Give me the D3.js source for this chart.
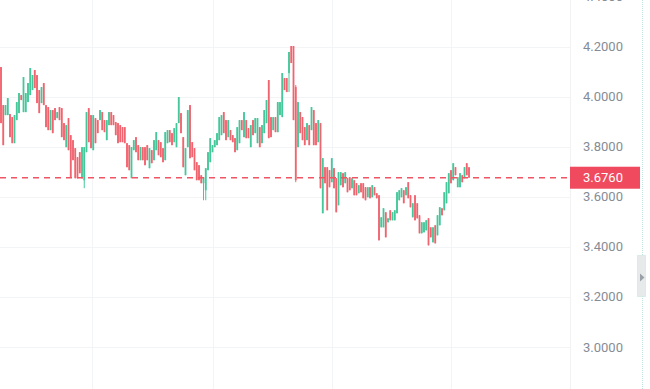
<!DOCTYPE html>
<html>
<head>
<meta charset="utf-8">
<script src="https://cdn.jsdelivr.net/npm/d3@7"></script>
<style>
  html, body { margin: 0; padding: 0; background: #fff; }
  svg { display: block; }
</style>
</head>
<body>
<svg id="chart" width="650" height="389"></svg>
<script>
// candle values (price units)
var opens = [
  4.118,3.966,3.926,3.926,3.930,3.918,3.814,3.906,3.934,4.006,
  3.938,3.938,3.978,4.006,4.026,4.106,4.086,4.026,3.974,4.054,
  3.966,3.958,3.866,3.946,3.954,3.914,3.958,3.954,3.894,3.798,
  3.914,3.846,3.826,3.794,3.758,3.778,3.674,3.666,3.778,3.954,
  3.926,3.786,3.914,3.906,3.906,3.938,3.906,3.826,3.886,3.938,
  3.926,3.898,3.894,3.886,3.878,3.878,3.814,3.806,3.674,3.786,
  3.838,3.806,3.746,3.798,3.798,3.806,3.714,3.786,3.746,3.786,
  3.826,3.818,3.794,3.746,3.814,3.866,3.854,3.818,3.798,3.894,
  3.934,3.838,3.686,3.798,3.966,3.818,3.794,3.738,3.726,3.686,
  3.654,3.626,3.706,3.738,3.778,3.798,3.806,3.826,3.846,3.938,
  3.906,3.838,3.866,3.846,3.834,3.786,3.814,3.906,3.838,3.906,
  3.874,3.798,3.906,3.854,3.814,3.878,3.814,3.854,3.894,4.066,
  3.918,3.866,3.918,3.858,3.926,3.918,4.074,4.074,4.094,4.202,
  4.202,4.038,3.798,3.938,3.918,3.878,3.826,3.886,3.866,3.946,
  3.894,3.818,3.894,3.534,3.718,3.718,3.706,3.658,3.714,3.674,
  3.566,3.646,3.694,3.654,3.674,3.678,3.634,3.666,3.654,3.614,
  3.654,3.654,3.638,3.598,3.638,3.598,3.638,3.614,3.606,3.478,
  3.478,3.538,3.498,3.546,3.506,3.506,3.534,3.586,3.598,3.626,
  3.606,3.658,3.606,3.518,3.606,3.574,3.526,3.454,3.458,3.466,
  3.514,3.478,3.418,3.486,3.446,3.486,3.554,3.546,3.574,3.614,
  3.706,3.666,3.718,3.638,3.638,3.686,3.674,3.734,3.718
];
var closes = [
  3.894,3.806,3.966,3.994,3.838,3.814,3.926,3.978,4.014,3.986,
  4.078,4.014,4.054,4.114,4.086,4.034,3.974,3.934,4.038,3.966,
  3.878,3.866,3.946,3.854,3.906,3.938,3.906,3.838,3.826,3.886,
  3.786,3.678,3.746,3.674,3.674,3.694,3.798,3.798,3.938,3.818,
  3.794,3.926,3.814,3.854,3.946,3.866,3.858,3.906,3.938,3.886,
  3.886,3.846,3.814,3.818,3.818,3.814,3.718,3.706,3.798,3.826,
  3.778,3.746,3.798,3.746,3.726,3.746,3.794,3.734,3.826,3.858,
  3.766,3.758,3.738,3.858,3.866,3.818,3.806,3.874,3.894,3.998,
  3.854,3.718,3.794,3.946,3.754,3.758,3.706,3.666,3.666,3.654,
  3.678,3.714,3.778,3.834,3.806,3.826,3.854,3.918,3.926,3.854,
  3.826,3.906,3.826,3.818,3.778,3.878,3.906,3.866,3.938,3.834,
  3.834,3.886,3.846,3.914,3.914,3.798,3.886,3.946,3.986,3.834,
  3.838,3.918,3.858,3.978,3.978,4.094,4.026,4.018,4.178,4.134,
  3.906,3.666,3.978,3.854,3.826,3.806,3.894,3.806,3.958,3.806,
  3.806,3.906,3.634,3.754,3.654,3.546,3.638,3.754,3.634,3.538,
  3.698,3.698,3.638,3.698,3.618,3.626,3.674,3.606,3.606,3.646,
  3.618,3.594,3.586,3.638,3.594,3.646,3.606,3.594,3.426,3.518,
  3.554,3.438,3.514,3.506,3.538,3.546,3.618,3.626,3.634,3.574,
  3.638,3.594,3.558,3.574,3.506,3.514,3.454,3.498,3.498,3.506,
  3.406,3.438,3.478,3.414,3.526,3.558,3.526,3.618,3.658,3.694,
  3.654,3.734,3.686,3.678,3.694,3.658,3.718,3.686,3.676
];
var highs = [
  4.118,3.966,3.966,3.994,3.930,3.918,3.926,3.978,4.014,4.006,
  4.078,4.014,4.054,4.114,4.086,4.106,4.086,4.026,4.038,4.054,
  3.966,3.958,3.946,3.946,3.954,3.938,3.958,3.954,3.894,3.886,
  3.914,3.846,3.826,3.794,3.758,3.778,3.798,3.798,3.938,3.954,
  3.926,3.926,3.914,3.906,3.946,3.938,3.906,3.906,3.938,3.938,
  3.926,3.898,3.894,3.886,3.878,3.878,3.814,3.806,3.798,3.826,
  3.838,3.806,3.798,3.798,3.798,3.806,3.794,3.786,3.826,3.858,
  3.826,3.818,3.794,3.858,3.866,3.866,3.854,3.874,3.894,3.998,
  3.934,3.838,3.794,3.946,3.966,3.818,3.794,3.738,3.726,3.686,
  3.678,3.714,3.778,3.834,3.806,3.826,3.854,3.918,3.926,3.938,
  3.906,3.906,3.866,3.846,3.834,3.878,3.906,3.906,3.938,3.906,
  3.874,3.886,3.906,3.914,3.914,3.878,3.886,3.946,3.986,4.066,
  3.918,3.918,3.918,3.978,3.978,4.094,4.074,4.074,4.178,4.202,
  4.202,4.046,3.978,3.938,3.918,3.878,3.894,3.886,3.958,3.946,
  3.894,3.906,3.894,3.754,3.718,3.718,3.706,3.754,3.714,3.674,
  3.698,3.698,3.694,3.698,3.674,3.678,3.674,3.666,3.654,3.646,
  3.654,3.654,3.638,3.638,3.638,3.646,3.638,3.614,3.606,3.518,
  3.554,3.538,3.514,3.546,3.538,3.546,3.618,3.626,3.634,3.626,
  3.638,3.658,3.606,3.574,3.606,3.574,3.526,3.498,3.498,3.506,
  3.514,3.478,3.478,3.486,3.526,3.558,3.554,3.618,3.658,3.694,
  3.706,3.734,3.718,3.678,3.694,3.686,3.718,3.734,3.718
];
var lows = [
  3.894,3.806,3.926,3.926,3.838,3.814,3.814,3.906,3.934,3.986,
  3.938,3.938,3.978,4.006,4.026,4.034,3.974,3.934,3.974,3.966,
  3.878,3.866,3.866,3.854,3.906,3.914,3.906,3.838,3.826,3.798,
  3.786,3.678,3.746,3.674,3.674,3.694,3.674,3.634,3.778,3.818,
  3.794,3.786,3.814,3.854,3.906,3.866,3.858,3.826,3.886,3.886,
  3.886,3.846,3.814,3.818,3.818,3.814,3.718,3.706,3.674,3.786,
  3.778,3.746,3.746,3.746,3.726,3.746,3.714,3.734,3.746,3.786,
  3.766,3.758,3.738,3.746,3.814,3.818,3.806,3.818,3.798,3.894,
  3.854,3.718,3.686,3.798,3.754,3.758,3.706,3.666,3.666,3.654,
  3.586,3.586,3.706,3.738,3.778,3.798,3.806,3.826,3.846,3.854,
  3.826,3.838,3.826,3.818,3.778,3.786,3.814,3.866,3.838,3.834,
  3.834,3.798,3.846,3.854,3.814,3.798,3.814,3.854,3.894,3.834,
  3.838,3.866,3.858,3.858,3.926,3.918,4.026,4.018,4.018,4.134,
  3.906,3.658,3.798,3.854,3.826,3.806,3.826,3.806,3.866,3.806,
  3.806,3.818,3.634,3.534,3.654,3.546,3.638,3.658,3.634,3.538,
  3.566,3.646,3.638,3.654,3.618,3.626,3.634,3.606,3.606,3.614,
  3.618,3.594,3.586,3.598,3.594,3.598,3.606,3.594,3.426,3.478,
  3.478,3.438,3.498,3.506,3.506,3.506,3.534,3.586,3.598,3.574,
  3.606,3.594,3.558,3.518,3.506,3.514,3.454,3.454,3.458,3.466,
  3.406,3.438,3.418,3.414,3.446,3.486,3.526,3.546,3.574,3.614,
  3.654,3.666,3.686,3.638,3.638,3.658,3.674,3.686,3.676
];
var lastPrice = 3.676;
var priceTicks = [3.0, 3.2, 3.4, 3.6, 3.8, 4.0, 4.2, 4.4];
var timeGridIdx = [40.5, 94, 147.2, 200.2];

var upColor = "#45c79b", downColor = "#f0646f";

var svg = d3.select("#chart"),
  width = +svg.attr("width"),
  height = +svg.attr("height"),
  plotRight = 570;

var x = d3.scaleLinear().domain([0, opens.length - 1]).range([1, 469]);
var y = d3.scaleLinear().domain([3.0, 4.2]).range([347, 46.5]);

// grid
var grid = svg.append("g");
grid.selectAll(".hg")
  .data(priceTicks)
  .enter().append("line")
  .attr("x1", 0).attr("x2", plotRight)
  .attr("y1", function(d) { return Math.round(y(d)) + 0.5; })
  .attr("y2", function(d) { return Math.round(y(d)) + 0.5; })
  .attr("stroke", "#f3f4f5");
grid.selectAll(".vg")
  .data(timeGridIdx)
  .enter().append("line")
  .attr("x1", function(d) { return Math.round(x(d)) + 0.5; })
  .attr("x2", function(d) { return Math.round(x(d)) + 0.5; })
  .attr("y1", 0).attr("y2", height)
  .attr("stroke", "#f3f4f5");
grid.append("line")
  .attr("x1", plotRight + 0.5).attr("x2", plotRight + 0.5)
  .attr("y1", 0).attr("y2", height)
  .attr("stroke", "#f1f2f3");

// candles
var candles = svg.append("g").selectAll("g")
  .data(d3.range(opens.length))
  .enter().append("g");

candles.append("line")
  .attr("x1", function(i) { return x(i); })
  .attr("x2", function(i) { return x(i); })
  .attr("y1", function(i) { return y(highs[i]); })
  .attr("y2", function(i) { return y(lows[i]); })
  .attr("stroke-width", 1)
  .attr("stroke", function(i) { return closes[i] >= opens[i] ? upColor : downColor; });

candles.append("rect")
  .attr("x", function(i) { return x(i) - 0.9; })
  .attr("width", 1.8)
  .attr("y", function(i) { return y(Math.max(opens[i], closes[i])); })
  .attr("height", function(i) { return Math.max(1, Math.abs(y(opens[i]) - y(closes[i]))); })
  .attr("fill", function(i) { return closes[i] >= opens[i] ? upColor : downColor; });

// last price line
var yLast = y(lastPrice);
svg.append("line")
  .attr("x1", 0).attr("x2", plotRight)
  .attr("y1", yLast).attr("y2", yLast)
  .attr("stroke", "#ef5563")
  .attr("stroke-width", 1.5)
  .attr("stroke-dasharray", "6,5");

// price axis labels
svg.append("g").selectAll("text")
  .data(priceTicks)
  .enter().append("text")
  .attr("x", 583)
  .attr("y", function(d) { return y(d); })
  .attr("dy", "0.35em")
  .attr("font-family", "Roboto, 'Noto Sans', sans-serif")
  .attr("font-size", 13)
  .attr("fill", "#868c96")
  .text(function(d) { return d.toFixed(4); });

// last price tag
svg.append("rect")
  .attr("x", plotRight).attr("y", yLast - 11)
  .attr("width", 70).attr("height", 22)
  .attr("fill", "#EF4A5E");
svg.append("text")
  .attr("x", 583).attr("y", yLast)
  .attr("dy", "0.35em")
  .attr("font-family", "Roboto, 'Noto Sans', sans-serif")
  .attr("font-size", 13)
  .attr("fill", "#fff")
  .text(lastPrice.toFixed(4));

// right edge strip + handle
svg.append("line")
  .attr("x1", 642.5).attr("x2", 642.5)
  .attr("y1", 0).attr("y2", height)
  .attr("stroke", "#bfe5dc")
  .attr("stroke-dasharray", "1,1");
svg.append("rect")
  .attr("x", 637.5).attr("y", 255.5)
  .attr("width", 8).attr("height", 41)
  .attr("fill", "#e6eaeb")
  .attr("stroke", "#c3e3dc")
  .attr("stroke-dasharray", "1,1");
svg.append("path")
  .attr("d", "M640,273.5L644.5,277.5L640,281.5Z")
  .attr("fill", "#9aa1a8");
</script>
</body>
</html>
